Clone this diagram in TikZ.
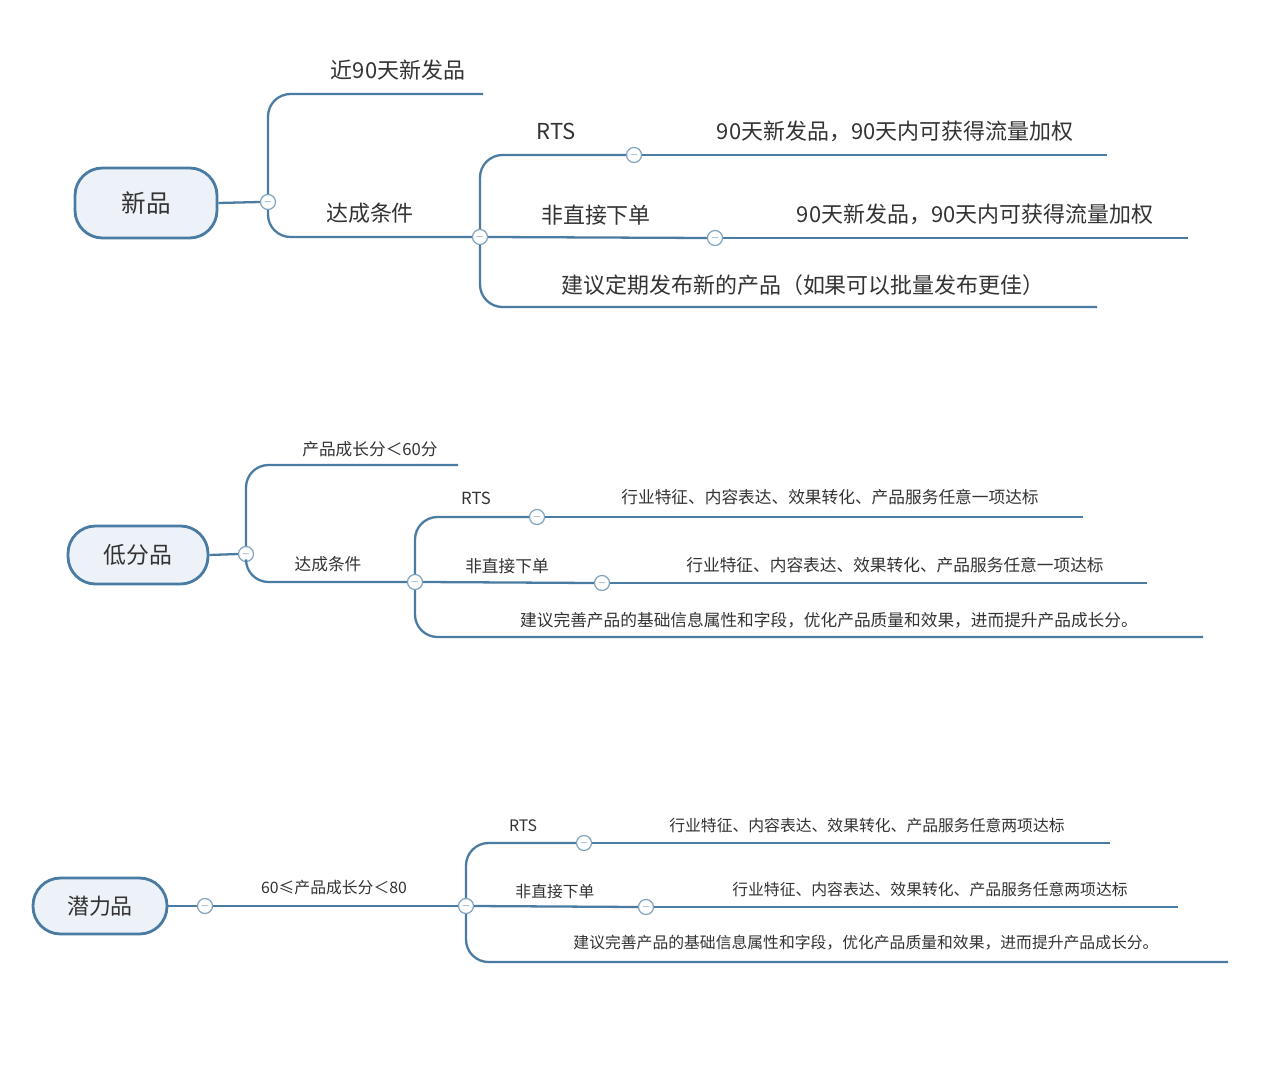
\documentclass[tikz,border=0pt]{standalone}
\usepackage{fontspec}
\setmainfont{Noto Sans CJK SC}
\begin{document}
\begin{tikzpicture}[x=0.02cm, y=-0.02cm,
  line/.style={draw=linecol, line width=1.3pt, rounded corners=0.45cm},
  root/.style={draw=linecol, line width=1.6pt, fill=rootfill, rounded corners=0.55cm, inner sep=0pt, text=txt},
  fold/.style={circle, draw=linecol!70, fill=white, line width=0.7pt, minimum size=0.3cm, inner sep=0pt, font=\tiny, text=linecol},
  lab/.style={text=txt, inner sep=0pt},
  big/.style={lab, font=\fontsize{12.5}{14}\selectfont},
  mid/.style={lab, font=\fontsize{9.5}{11}\selectfont},
  sml/.style={lab, font=\fontsize{9}{10}\selectfont}]
\definecolor{linecol}{HTML}{4A7BA3}
\definecolor{rootfill}{HTML}{EDF2F8}
\definecolor{txt}{HTML}{333333}
\useasboundingbox[fill=white] (0,0) rectangle (1280,1067);

% Section 1: new products
\node[root, minimum width=2.84cm, minimum height=1.4cm, font=\fontsize{14}{16}\selectfont] (newroot) at (146,203) {新品};
\node[fold] (n1) at (268,202) {$-$};
\node[fold] (n2) at (480,237) {$-$};
\node[fold] (n3) at (634,155) {$-$};
\node[fold] (n4) at (715,238) {$-$};
\coordinate (n1up) at (483,94);
\coordinate (n3end) at (1107,155);
\coordinate (n4end) at (1188,238);
\coordinate (n2low) at (1097,307);
\draw[line] (newroot.east) -- (n1.west);
\draw[line] (n1.north) |- (n1up);
\draw[line] (n1.south) |- (n2.west);
\draw[line] (n2.north) |- (n3.west);
\draw[line] (n3.east) -- (n3end);
\draw[line] (n2.east) -- (n4.west);
\draw[line] (n4.east) -- (n4end);
\draw[line] (n2.south) |- (n2low);
\node[big] (t11) at (398,70) {近90天新发品};
\node[big] (t12) at (370,213) {达成条件};
\node[big] (t13) at (556,131) {RTS};
\node[big] (t14) at (895,131) {90天新发品，90天内可获得流量加权};
\node[big] (t15) at (596,215) {非直接下单};
\node[big] (t16) at (975,214) {90天新发品，90天内可获得流量加权};
\node[big] (t17) at (803,285) {建议定期发布新的产品（如果可以批量发布更佳）};

% Section 2: low score products
\node[root, minimum width=2.8cm, minimum height=1.16cm, font=\fontsize{13}{15}\selectfont] (lowroot) at (138,555) {低分品};
\node[fold] (l1) at (246,554) {$-$};
\node[fold] (l2) at (415,582) {$-$};
\node[fold] (l3) at (537,517) {$-$};
\node[fold] (l4) at (602,583) {$-$};
\coordinate (l1up) at (458,465);
\coordinate (l3end) at (1083,517);
\coordinate (l4end) at (1147,583);
\coordinate (l2low) at (1203,637);
\draw[line] (lowroot.east) -- (l1.west);
\draw[line] (l1.north) |- (l1up);
\draw[line] (l1.south) |- (l2.west);
\draw[line] (l2.north) |- (l3.west);
\draw[line] (l3.east) -- (l3end);
\draw[line] (l2.east) -- (l4.west);
\draw[line] (l4.east) -- (l4end);
\draw[line] (l2.south) |- (l2low);
\node[mid] (t21) at (370,449) {产品成长分＜60分};
\node[mid] (t22) at (328,564) {达成条件};
\node[mid] (t23) at (476,498) {RTS};
\node[mid] (t24) at (830,497) {行业特征、内容表达、效果转化、产品服务任意一项达标};
\node[mid] (t25) at (507,566) {非直接下单};
\node[mid] (t26) at (895,565) {行业特征、内容表达、效果转化、产品服务任意一项达标};
\node[mid] (t27) at (829,620) {建议完善产品的基础信息属性和字段，优化产品质量和效果，进而提升产品成长分。};

% Section 3: potential products
\node[root, minimum width=2.68cm, minimum height=1.12cm, font=\fontsize{12.5}{14}\selectfont] (potroot) at (100,906) {潜力品};
\node[fold] (p1) at (205,906) {$-$};
\node[fold] (p2) at (466,906) {$-$};
\node[fold] (p3) at (584,843) {$-$};
\node[fold] (p4) at (646,907) {$-$};
\coordinate (p3end) at (1110,843);
\coordinate (p4end) at (1178,907);
\coordinate (p2low) at (1228,962);
\draw[line] (potroot.east) -- (p1.west);
\draw[line] (p1.east) -- (p2.west);
\draw[line] (p2.north) |- (p3.west);
\draw[line] (p3.east) -- (p3end);
\draw[line] (p2.east) -- (p4.west);
\draw[line] (p4.east) -- (p4end);
\draw[line] (p2.south) |- (p2low);
\node[sml] (t31) at (334,888) {60≤产品成长分＜80};
\node[sml] (t32) at (523,826) {RTS};
\node[sml] (t33) at (867,825) {行业特征、内容表达、效果转化、产品服务任意两项达标};
\node[sml] (t34) at (555,891) {非直接下单};
\node[sml] (t35) at (930,889) {行业特征、内容表达、效果转化、产品服务任意两项达标};
\node[sml] (t36) at (866,943) {建议完善产品的基础信息属性和字段，优化产品质量和效果，进而提升产品成长分。};
\end{tikzpicture}
\end{document}
